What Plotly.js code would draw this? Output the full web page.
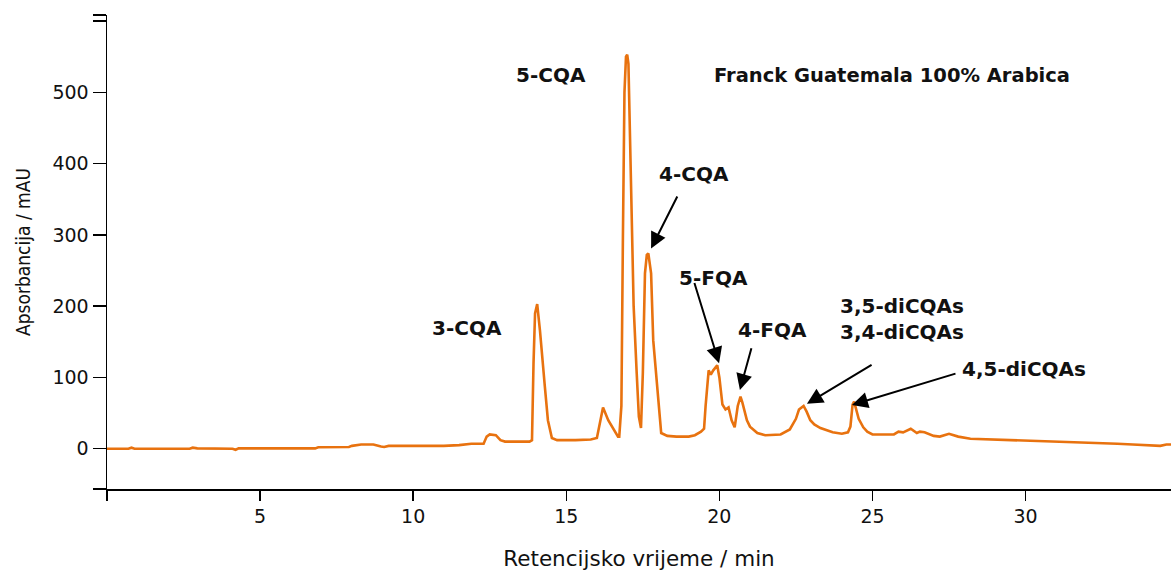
<!DOCTYPE html>
<html>
<head>
<meta charset="utf-8">
<script src="https://cdn.plot.ly/plotly-3.0.1.min.js"></script>
<style>html,body{margin:0;padding:0;background:#fff;}#chart{width:1171px;height:571px;}</style>
</head>
<body>
<div id="chart"></div>
<script>
// Retention time (min)
const retentionTime = [
  0.0, 0.7, 0.8, 0.9, 2.7, 2.8, 2.95, 4.1, 4.2, 4.3, 6.8, 6.9, 7.9, 8.0, 8.3, 8.7, 8.95, 9.05, 9.2, 9.6,
  10.0, 11.0, 11.5, 11.9, 12.3, 12.4, 12.5, 12.7, 12.85, 13.0, 13.8, 13.88, 13.93, 13.98, 14.05, 14.14, 14.3, 14.4, 14.53, 14.7,
  15.3, 15.8, 16.0, 16.17, 16.2, 16.37, 16.53, 16.69, 16.73, 16.8, 16.85, 16.9, 16.95, 16.99, 17.03, 17.07, 17.1, 17.2, 17.3, 17.37,
  17.44, 17.5, 17.57, 17.63, 17.68, 17.77, 17.84, 17.97, 18.1, 18.3, 18.6, 19.0, 19.2, 19.4, 19.5, 19.55, 19.65, 19.72, 19.8, 19.93,
  20.0, 20.1, 20.2, 20.3, 20.4, 20.5, 20.6, 20.69, 20.75, 20.9, 21.0, 21.24, 21.5, 22.0, 22.3, 22.5, 22.6, 22.75, 22.85, 22.97,
  23.1, 23.3, 23.7, 24.0, 24.2, 24.28, 24.35, 24.4, 24.48, 24.55, 24.7, 24.83, 25.0, 25.7, 25.85, 26.0, 26.25, 26.45, 26.55, 26.7,
  27.0, 27.2, 27.5, 27.8, 28.2, 29.0, 30.3, 31.5, 32.2, 33.0, 33.5, 34.2, 34.4, 34.6, 34.75
];
// Absorbance (mAU)
const absorbance = [
  0, 0, 1.5, 0, 0, 1.5, 0.5, 0, -1.5, 0.5, 0.5, 2, 2.5, 4, 6, 6, 3, 2.5, 4, 4,
  3.5, 4, 5, 7, 7, 17, 20, 19, 12, 10, 10, 12, 120, 190, 203, 166, 87, 40, 15, 12,
  12, 13, 15, 54, 58, 40, 29, 17, 17, 60, 300, 500, 550, 553, 540, 470, 390, 200, 106, 45,
  29, 106, 246, 272, 274, 246, 152, 82, 22, 18, 17, 17, 19, 24, 28, 60, 110, 104, 110, 117,
  100, 62, 55, 58, 40, 30, 60, 73, 65, 40, 31, 22, 19, 20, 27, 42, 55, 60, 52, 40,
  34, 29, 23, 21, 23, 31, 62, 66, 55, 42, 30, 24, 20, 20, 24, 23, 28, 22, 24, 23,
  18, 17, 21, 17, 14, 13, 11, 9, 8, 7, 6, 5, 4, 6, 6
];

const xTickVals = [0, 5, 10, 15, 20, 25, 30];
const xTickText = ['', '5', '10', '15', '20', '25', '30'];
const yTickVals = [-56.4, 0, 100, 200, 300, 400, 500, 600, 608.3];
const yTickText = ['', '0', '100', '200', '300', '400', '500', '', ''];

// Peak labels: [text, x, y]
const peakLabels = ['5-CQA', '4-CQA', '5-FQA', '4-FQA', '3,5-diCQAs', '3,4-diCQAs', '4,5-diCQAs', '3-CQA'];
const peakLabelX = [14.50, 19.17, 19.82, 21.75, 25.95, 25.95, 29.95, 11.77];
const peakLabelY = [524, 385, 239, 166.5, 200, 164, 112, 170];
// Arrows: head (x,y) and tail (x,y)
const arrowHeadX = [17.77, 19.99, 20.67, 22.86, 24.33];
const arrowHeadY = [281, 120, 82.5, 63, 61.5];
const arrowTailX = [18.65, 19.17, 21.06, 25.02, 27.76];
const arrowTailY = [356, 234.5, 143, 119, 106];

const sampleTitle = 'Franck Guatemala 100% Arabica';

const lblFont = {family: 'DejaVu Sans', size: 20, color: '#111', weight: 'bold'};
const annotations = [];
peakLabels.forEach((t, i) => {
  annotations.push({x: peakLabelX[i], y: peakLabelY[i], xref: 'x', yref: 'y', text: t,
    showarrow: false, font: lblFont, xanchor: 'center', yanchor: 'middle'});
});
arrowHeadX.forEach((hx, i) => {
  annotations.push({x: hx, y: arrowHeadY[i], ax: arrowTailX[i], ay: arrowTailY[i],
    xref: 'x', yref: 'y', axref: 'x', ayref: 'y', text: '', showarrow: true,
    arrowhead: 2, arrowsize: 1.6, arrowwidth: 2, arrowcolor: '#000', standoff: 0});
});
annotations.push({x: 25.64, y: 523, xref: 'x', yref: 'y', text: sampleTitle, showarrow: false,
  font: {family: 'DejaVu Sans', size: 19.5, color: '#111', weight: 'bold'}, xanchor: 'center', yanchor: 'middle'});

const trace = {
  x: retentionTime, y: absorbance, type: 'scatter', mode: 'lines',
  line: {color: '#E8720F', width: 2.6, shape: 'linear'}, hoverinfo: 'skip'
};

const layout = {
  width: 1171, height: 571,
  margin: {l: 107, r: 0, t: 15, b: 82, pad: 0},
  paper_bgcolor: '#fff', plot_bgcolor: '#fff',
  showlegend: false,
  xaxis: {
    range: [0, 34.75], tickmode: 'array', tickvals: xTickVals, ticktext: xTickText,
    ticks: 'outside', ticklen: 10, tickwidth: 1.5, tickcolor: '#000',
    showline: true, linecolor: '#000', linewidth: 1.5, showgrid: false, zeroline: false,
    tickfont: {family: 'DejaVu Sans', size: 19, color: '#111'},
    title: {text: 'Retencijsko vrijeme / min', font: {family: 'DejaVu Sans', size: 21.5, color: '#111'}, standoff: 29}
  },
  yaxis: {
    range: [-56.5, 608.5], tickmode: 'array', tickvals: yTickVals, ticktext: yTickText,
    ticks: 'outside', ticklen: 13, tickwidth: 1.5, tickcolor: '#000',
    showline: true, linecolor: '#000', linewidth: 1.5, showgrid: false, zeroline: false,
    tickfont: {family: 'DejaVu Sans', size: 19, color: '#111'},
    title: {text: 'Apsorbancija / mAU', font: {family: "'DejaVu Sans Condensed', 'Liberation Sans', sans-serif", size: 19, color: '#111'}, standoff: 17}
  },
  annotations: annotations
};

Plotly.newPlot('chart', [trace], layout, {displayModeBar: false, staticPlot: true});
</script>
</body>
</html>
